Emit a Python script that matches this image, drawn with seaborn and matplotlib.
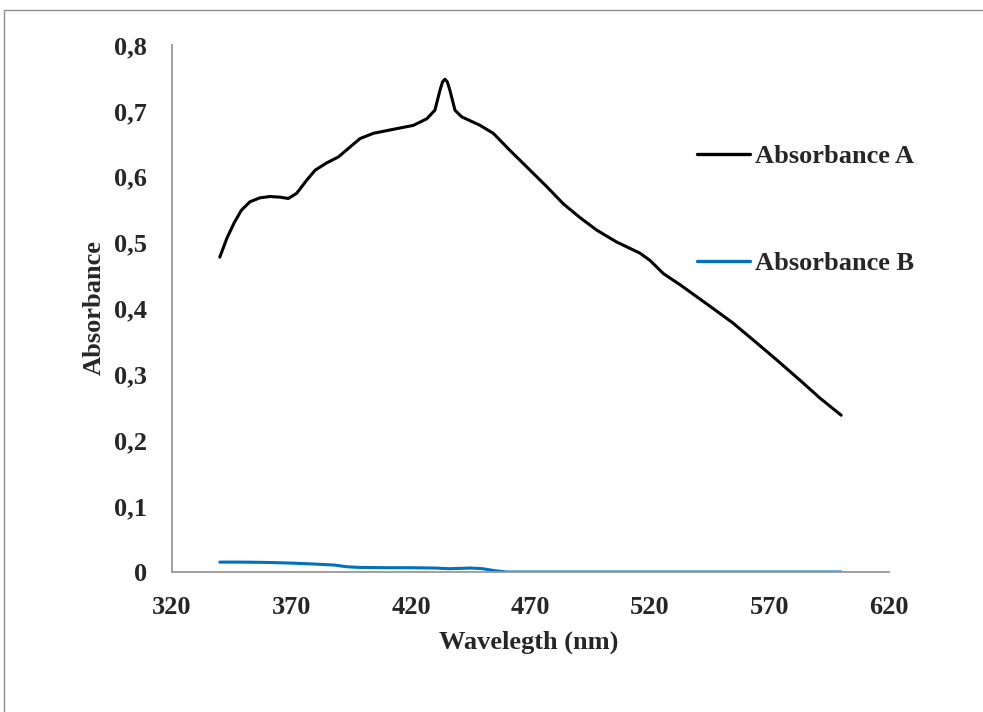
import matplotlib
matplotlib.use("Agg")
import matplotlib.pyplot as plt
import matplotlib.patches as mpatches
import seaborn as sns
import pandas as pd

# Series A (black)
wl_a = [340, 343, 346, 349, 352.6, 356.8, 361, 365.2, 368.7, 372.2, 376.4, 379.9,
        384.7, 389.6, 393.8, 398.7, 404.3, 412.6, 421, 426.6, 430, 432.1, 433.2,
        434.2, 435.2, 436.3, 438.4, 441.2, 448.9, 454.4, 461.4, 469.8, 476.8,
        483.7, 490.7, 497.7, 506, 515.8, 520, 525.6, 532.6, 539.5, 546.4, 554.7,
        563.9, 573, 582.8, 591.1, 600]
abs_a = [0.478, 0.507, 0.530, 0.549, 0.562, 0.568, 0.570, 0.569, 0.567, 0.575,
         0.595, 0.610, 0.621, 0.630, 0.643, 0.658, 0.666, 0.672, 0.678, 0.688,
         0.701, 0.731, 0.744, 0.748, 0.744, 0.731, 0.701, 0.691, 0.678, 0.666,
         0.640, 0.610, 0.585, 0.559, 0.538, 0.519, 0.501, 0.484, 0.473, 0.453,
         0.436, 0.418, 0.400, 0.378, 0.350, 0.322, 0.291, 0.264, 0.238]

# Series B (blue)
wl_b = [340, 350, 360, 370, 380, 388, 393, 398, 410, 420, 430, 436, 445, 450, 455,
        460, 470, 500, 530, 560, 600]
abs_b = [0.015, 0.015, 0.0145, 0.0135, 0.012, 0.0105, 0.008, 0.007, 0.0065, 0.0065,
         0.006, 0.005, 0.006, 0.005, 0.002, 0.0, 0.0, 0.0, 0.0, 0.0, 0.0]

series_names = ["Absorbance A", "Absorbance B"]
series_colors = ["#000000", "#0070C0"]
x_ticks = [320, 370, 420, 470, 520, 570, 620]
y_ticks = [0, 0.1, 0.2, 0.3, 0.4, 0.5, 0.6, 0.7, 0.8]
y_tick_labels = ["0", "0,1", "0,2", "0,3", "0,4", "0,5", "0,6", "0,7", "0,8"]

df = pd.concat([
    pd.DataFrame({"wl": wl_a, "abs": abs_a, "series": series_names[0]}),
    pd.DataFrame({"wl": wl_b, "abs": abs_b, "series": series_names[1]}),
], ignore_index=True)

sns.set_style("white")
plt.rcParams["font.family"] = ["Liberation Serif", "DejaVu Serif"]
plt.rcParams["font.weight"] = "bold"

FS = 19

fig = plt.figure(figsize=(9.83, 7.12), dpi=100)
ax = fig.add_axes([172 / 983, 1 - 572 / 712, (889 - 172) / 983, (572 - 45) / 712])

sns.lineplot(data=df, x="wl", y="abs", hue="series", palette=series_colors,
             estimator=None, sort=False, linewidth=2.2, ax=ax)
for ln in ax.get_lines():
    ln.set_solid_joinstyle("round")

ax.set_xlim(320, 620)
ax.set_ylim(0, 0.8)
ax.set_xticks(x_ticks)
ax.set_xticklabels([str(t) for t in x_ticks])
ax.set_yticks(y_ticks)
ax.set_yticklabels(y_tick_labels)
ax.tick_params(axis="both", length=0, labelsize=FS)
ax.tick_params(axis="y", pad=18)
ax.tick_params(axis="x", pad=17)
for lbl in ax.get_xticklabels() + ax.get_yticklabels():
    lbl.set_fontweight("bold")

for side in ["top", "right"]:
    ax.spines[side].set_visible(False)
for side in ["left", "bottom"]:
    ax.spines[side].set_color("#999999")
    ax.spines[side].set_linewidth(1.3)

ax.set_xlabel("Wavelegth (nm)", fontsize=FS, fontweight="bold")
ax.set_ylabel("Absorbance", fontsize=FS, fontweight="bold")
ax.xaxis.set_label_coords(0.497, -0.112)
ax.yaxis.set_label_coords(-0.093, 0.501)

leg = ax.legend(loc="center left", bbox_to_anchor=(697 / 983, 1 - 210 / 712),
                bbox_transform=fig.transFigure, frameon=False, fontsize=FS,
                handlelength=2.0, handletextpad=0.19, labelspacing=3.15,
                borderpad=0, borderaxespad=0, title=None)
for t in leg.get_texts():
    t.set_fontweight("bold")
for h in leg.get_lines():
    h.set_linewidth(2.4)

# outer chart border
fig.patches.append(mpatches.Rectangle((4 / 983, -0.5), 1.5, 1.5 - 10 / 712,
                                      transform=fig.transFigure, fill=False,
                                      edgecolor="#8c8c8c", linewidth=1.0))

fig.savefig("out.png", dpi=100)
